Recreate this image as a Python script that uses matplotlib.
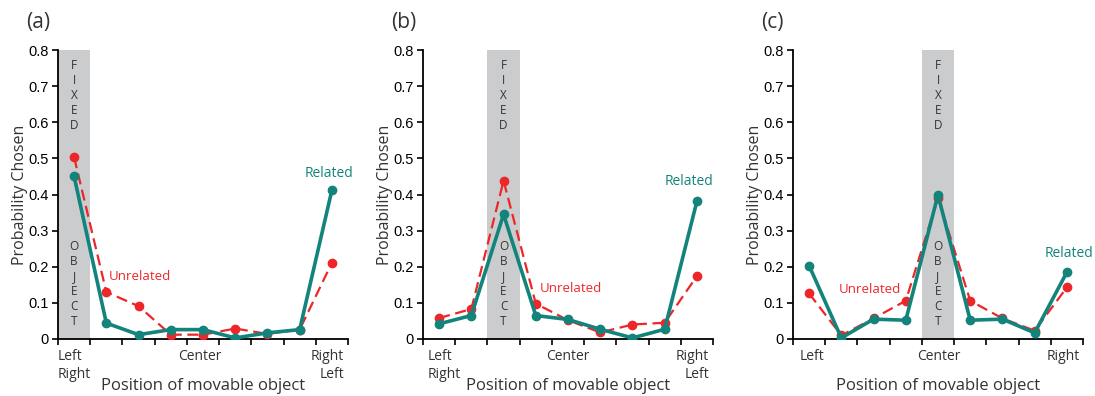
import matplotlib
matplotlib.use('Agg')
import matplotlib.pyplot as plt

# Probability chosen at the 9 positions of the movable object
related_a = [0.45, 0.044, 0.012, 0.026, 0.026, 0.003, 0.017, 0.026, 0.412]
unrelated_a = [0.503, 0.130, 0.091, 0.012, 0.012, 0.029, 0.014, 0.026, 0.211]
related_b = [0.042, 0.065, 0.345, 0.065, 0.054, 0.027, 0.003, 0.027, 0.381]
unrelated_b = [0.058, 0.083, 0.438, 0.098, 0.052, 0.018, 0.040, 0.045, 0.174]
related_c = [0.203, 0.003, 0.055, 0.052, 0.399, 0.052, 0.055, 0.017, 0.185]
unrelated_c = [0.126, 0.010, 0.057, 0.106, 0.391, 0.106, 0.057, 0.023, 0.143]

panel_names = ['(a)', '(b)', '(c)']
fixed_slot = [0, 2, 4]            # interval occupied by the fixed object
pos_labels = [
    [('Left\nRight', 0.0, 'left'), ('Center', 4.4, 'center'), ('Right\nLeft', 8.88, 'right')],
    [('Left\nRight', 0.13, 'left'), ('Center', 4.48, 'center'), ('Right\nLeft', 8.88, 'right')],
    [('Left', 0.6, 'center'), ('Center', 4.52, 'center'), ('Right', 8.4, 'center')],
]
related_lbl = [(8.4, 0.458), (8.25, 0.436), (8.55, 0.238)]
unrelated_lbl = [(2.55, 0.174), (4.6, 0.14), (2.4, 0.137)]

TEAL = '#13847c'
RED = '#ed2629'
GRAY = '#cbcccd'
TXT = '#333333'
FONT = 'Open Sans'

fig = plt.figure(figsize=(10.95, 3.96), dpi=100)
lefts = [58, 423, 793]
series = [(related_a, unrelated_a), (related_b, unrelated_b), (related_c, unrelated_c)]
x = [i + 0.5 for i in range(9)]

for k in range(3):
    ax = fig.add_axes([lefts[k] / 1095, 57 / 396, 290 / 1095, 289 / 396])
    rel, unr = series[k]
    f = fixed_slot[k]
    ax.axvspan(f, f + 1, ymin=0, ymax=1, color=GRAY, lw=0, zorder=0)
    for j, ch in enumerate('FIXED'):
        ax.text(f + 0.5, 0.756 - j * 0.0415, ch, ha='center', va='center',
                fontsize=8.5, color=TXT, family=FONT, zorder=1)
    for j, ch in enumerate('OBJECT'):
        ax.text(f + 0.5, 0.257 - j * 0.0415, ch, ha='center', va='center',
                fontsize=8.5, color=TXT, family=FONT, zorder=1)

    ax.plot(x, unr, color=RED, lw=1.6, dashes=(5, 2.5), marker='o', ms=6,
            mec=RED, mfc=RED, zorder=3)
    ax.plot(x, rel, color=TEAL, lw=2.6, marker='o', ms=6,
            mec=TEAL, mfc=TEAL, zorder=4, solid_joinstyle='round')

    ax.set_xlim(0, 9)
    ax.set_ylim(0, 0.8)
    ax.set_xticks(range(10))
    ax.set_xticklabels([])
    ax.set_yticks([0, 0.1, 0.2, 0.3, 0.4, 0.5, 0.6, 0.7, 0.8])
    ax.set_yticklabels(['0', '0.1', '0.2', '0.3', '0.4', '0.5', '0.6', '0.7', '0.8'],
                       family='Liberation Sans', fontsize=10.5)
    ax.tick_params(direction='out', length=4, width=1.2, pad=3, color='black')
    for s in ['top', 'right']:
        ax.spines[s].set_visible(False)
    for s in ['left', 'bottom']:
        ax.spines[s].set_linewidth(1.3)

    for txt, px, ha in pos_labels[k]:
        ax.text(px, -0.028, txt, ha=ha, va='top', fontsize=10, family=FONT,
                color=TXT, linespacing=1.3)
    ax.text(0.5, -0.176, 'Position of movable object', transform=ax.transAxes,
            ha='center', va='baseline', fontsize=12, family=FONT, color=TXT)
    ax.text(-0.13, 0.5, 'Probability Chosen', transform=ax.transAxes, rotation=90,
            ha='center', va='center', fontsize=11.5, family=FONT, color=TXT)
    ax.text(related_lbl[k][0], related_lbl[k][1], 'Related', ha='center', va='center',
            fontsize=10, family=FONT, color=TEAL)
    ax.text(unrelated_lbl[k][0], unrelated_lbl[k][1], 'Unrelated', ha='center', va='center',
            fontsize=9.5, family=FONT, color=RED)
    ax.text(-0.11, 1.095, panel_names[k], transform=ax.transAxes, ha='left', va='center',
            fontsize=15, family=FONT, color=TXT)

fig.savefig('out.png', dpi=100)
